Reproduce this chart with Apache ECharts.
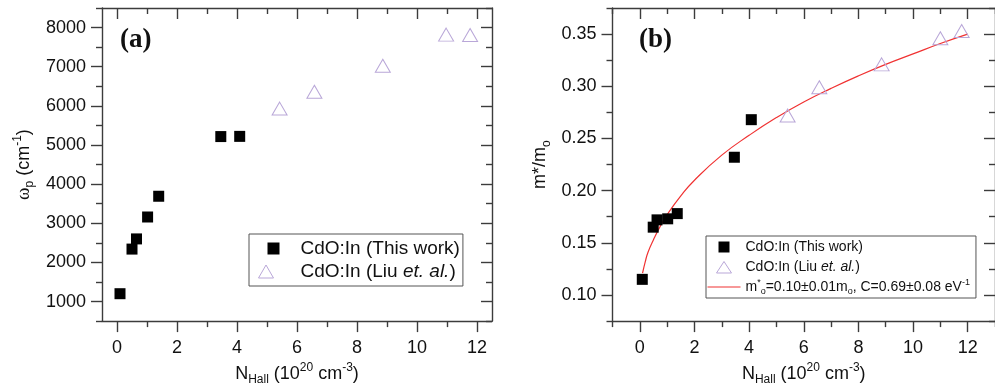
<!DOCTYPE html>
<html><head><meta charset="utf-8">
<script src="https://cdn.jsdelivr.net/npm/echarts@6/dist/echarts.min.js"></script>
<style>html,body{margin:0;padding:0;background:#fff}#c{width:995px;height:391px}</style>
</head><body><div id="c"></div>
<script>
// ---- data ----
const nWork = [0.10, 0.50, 0.65, 1.02, 1.39, 3.46, 4.09];
const wpWork = [1200, 2340, 2600, 3160, 3690, 5215, 5220];
const nLiu = [5.42, 6.58, 8.86, 10.97, 11.77];
const wpLiu = [5930, 6360, 7025, 7820, 7808];

const nWorkB = [0.09, 0.49, 0.63, 1.02, 1.37, 3.46, 4.08];
const mWork = [0.115, 0.165, 0.172, 0.173, 0.178, 0.232, 0.268];
const nLiuB = [5.41, 6.57, 8.85, 11.00, 11.78];
const mLiu = [0.272, 0.299, 0.321, 0.346, 0.353];

const nFit = [0.1, 0.2, 0.3, 0.5, 0.75, 1, 1.5, 2, 3, 4, 5, 6, 7, 8, 9, 10, 11, 12];
const mFit = [0.121, 0.132, 0.141, 0.153, 0.166, 0.177, 0.195, 0.210, 0.234, 0.253, 0.270, 0.285, 0.298, 0.310, 0.321, 0.331, 0.341, 0.350];

// tick values
const xMajor = [0, 2, 4, 6, 8, 10, 12];
const xMinorA = [1, 3, 5, 7, 9, 11];
const xMinorB = [-1, 1, 3, 5, 7, 9, 11, 13];
const yMajorA = [1000, 2000, 3000, 4000, 5000, 6000, 7000, 8000];
const yMinorA = [500, 1500, 2500, 3500, 4500, 5500, 6500, 7500, 8500];
const yMajorB = [0.10, 0.15, 0.20, 0.25, 0.30, 0.35];
const yMinorB = [0.075, 0.125, 0.175, 0.225, 0.275, 0.325, 0.375];

const nameWork = 'CdO:In (This work)';
const nameLiu = 'CdO:In (Liu et. al.)';
const nameFit = 'fit';

const AX = '#3c3c3c';
const FONT = 'Liberation Sans';
const TRI = '#b9a7d8';
const RED = '#f03232';

function zip(a, b) { return a.map((v, i) => [v, b[i]]); }

function axisSet(dim, gridIndex, min, max, major, minor, lblFmt, name, nameGap) {
  const pos = dim === 'x' ? ['bottom', 'top'] : ['left', 'right'];
  const base = {type: 'value', gridIndex, min, max, splitLine: {show: false}};
  const ls = {color: AX, width: 1.4};
  const sub = {fontSize: 12, lineHeight: 12, verticalAlign: 'bottom', fontFamily: FONT, color: '#111'};
  const sup = {fontSize: 12, lineHeight: 12, verticalAlign: 'top', fontFamily: FONT, color: '#111'};
  return [
    Object.assign({}, base, {
      position: pos[0],
      axisLine: {show: true, onZero: false, lineStyle: ls},
      axisTick: {show: true, inside: false, length: 11, customValues: major, lineStyle: ls},
      axisLabel: {show: true, customValues: major, margin: dim === 'x' ? 18 : 16, fontSize: 18, fontFamily: FONT, color: '#111', formatter: lblFmt},
      name: name, nameLocation: 'middle', nameGap: nameGap,
      nameTextStyle: {fontSize: 18, fontFamily: FONT, color: '#111', lineHeight: 24,
        rich: {n: {fontSize: 18, fontFamily: FONT, color: '#111', lineHeight: 24},
               w: {fontSize: 19, fontFamily: 'Liberation Serif', color: '#111', lineHeight: 24},
               sub: sub, sup: sup}}
    }),
    Object.assign({}, base, {
      position: pos[0],
      axisLine: {show: false, onZero: false},
      axisTick: {show: true, inside: false, length: 6, customValues: minor, lineStyle: ls},
      axisLabel: {show: false}
    }),
    Object.assign({}, base, {
      position: pos[1],
      axisLine: {show: true, onZero: false, lineStyle: ls},
      axisTick: {show: true, inside: true, length: 11, customValues: major, lineStyle: ls},
      axisLabel: {show: false}
    }),
    Object.assign({}, base, {
      position: pos[1],
      axisLine: {show: false, onZero: false},
      axisTick: {show: true, inside: true, length: 6, customValues: minor, lineStyle: ls},
      axisLabel: {show: false}
    })
  ];
}

const xAxes = [].concat(
  axisSet('x', 0, -0.5, 12.5, xMajor, xMinorA, v => String(v),
    '{n|N}{sub|Hall}{n| (10}{sup|20}{n| cm}{sup|-3}{n|)}', 35),
  axisSet('x', 1, -1, 13, xMajor, xMinorB, v => String(v),
    '{n|N}{sub|Hall}{n| (10}{sup|20}{n| cm}{sup|-3}{n|)}', 35)
);
const yAxes = [].concat(
  axisSet('y', 0, 500, 8500, yMajorA, yMinorA, v => String(v),
    '{w|ω}{sub|p}{n| (cm}{sup|-1}{n|)}', 66),
  axisSet('y', 1, 0.075, 0.375, yMajorB, yMinorB, v => Number(v).toFixed(2),
    '{n|m*/m}{sub|o}', 60)
);

function legendFmt(name) {
  if (name === nameLiu) return 'CdO:In (Liu {it|et. al.})';
  if (name === nameFit) return 'm{sup|*}{sub|o}=0.10±0.01m{sub|o}, C=0.69±0.08 eV{sup|-1}';
  return name;
}

// legend icons: invisible move-to points fix the icon box so shapes keep their proportions
const iconSqA = 'path://M0,0M44,13M16,0.5H28V12.5H16Z';
const iconTriA = 'path://M0,0M44,13M14.5,0L22,13L7,13Z';
const iconSqB = 'path://M0,0M33,12M11,0.5H22V11.5H11Z';
const iconTriB = 'path://M0,0M33,12M16.5,0.5L24,12L9,12Z';
const iconLineB = 'path://M0,0M33,12M0,5.4H33V6.6H0Z';

const hollow = {color: 'rgba(255,255,255,0)', borderColor: TRI, borderWidth: 1};

const option = {
  animation: false,
  backgroundColor: '#fff',
  grid: [
    {left: 102, top: 8, width: 390, height: 313.5, containLabel: false},
    {left: 612.5, top: 8, width: 389.5, height: 313.5, containLabel: false}
  ],
  xAxis: xAxes,
  yAxis: yAxes,
  legend: [
    {
      left: 249, top: 234, orient: 'vertical', itemWidth: 44, itemHeight: 13, itemGap: 4,
      padding: [5, 3, 5, 2], borderColor: '#555', borderWidth: 1, borderRadius: 0,
      data: [
        {name: nameWork, icon: iconSqA, itemStyle: {color: '#000', opacity: 1}},
        {name: nameLiu, icon: iconTriA, itemStyle: hollow}
      ],
      selectedMode: false,
      textStyle: {fontSize: 19, fontFamily: FONT, color: '#111',
        rich: {it: {fontStyle: 'italic', fontSize: 19, fontFamily: FONT, color: '#111'}}},
      formatter: legendFmt
    },
    {
      left: 706, top: 236, orient: 'vertical', itemWidth: 33, itemHeight: 12, itemGap: 2,
      padding: [2, 6, 2, 1], borderColor: '#555', borderWidth: 1, borderRadius: 0,
      data: [
        {name: nameWork, icon: iconSqB, itemStyle: {color: '#000', opacity: 1}},
        {name: nameLiu, icon: iconTriB, itemStyle: hollow},
        {name: nameFit, icon: iconLineB, itemStyle: {color: RED, borderWidth: 0}}
      ],
      selectedMode: false,
      textStyle: {fontSize: 14, lineHeight: 18, fontFamily: FONT, color: '#111',
        rich: {it: {fontStyle: 'italic', fontSize: 14, lineHeight: 18, fontFamily: FONT, color: '#111'},
               sup: {fontSize: 9, lineHeight: 9, verticalAlign: 'top', fontFamily: FONT, color: '#111'},
               sub: {fontSize: 9, lineHeight: 9, verticalAlign: 'bottom', fontFamily: FONT, color: '#111'}}},
      formatter: legendFmt
    }
  ],
  graphic: [
    {type: 'text', left: 120, top: 27, style: {text: '(a)', font: 'bold 27px "Liberation Serif"', fill: '#111'}},
    {type: 'text', left: 639, top: 27, style: {text: '(b)', font: 'bold 27px "Liberation Serif"', fill: '#111'}}
  ],
  series: [
    {type: 'scatter', name: nameWork, xAxisIndex: 0, yAxisIndex: 0, data: zip(nWork, wpWork),
      symbol: 'rect', symbolSize: 11, itemStyle: {color: '#000', opacity: 1}},
    {type: 'scatter', name: nameLiu, xAxisIndex: 0, yAxisIndex: 0, data: zip(nLiu, wpLiu),
      symbol: 'triangle', symbolSize: [15, 13], itemStyle: Object.assign({opacity: 1}, hollow)},
    {type: 'line', name: nameFit, xAxisIndex: 4, yAxisIndex: 4, data: zip(nFit, mFit),
      smooth: true, showSymbol: false, symbol: 'none', itemStyle: {color: RED},
      lineStyle: {color: RED, width: 1.2}, z: 1},
    {type: 'scatter', name: nameWork, xAxisIndex: 4, yAxisIndex: 4, data: zip(nWorkB, mWork),
      symbol: 'rect', symbolSize: 11, itemStyle: {color: '#000', opacity: 1}, z: 3},
    {type: 'scatter', name: nameLiu, xAxisIndex: 4, yAxisIndex: 4, data: zip(nLiuB, mLiu),
      symbol: 'triangle', symbolSize: [15, 13], itemStyle: Object.assign({opacity: 1}, hollow), z: 3}
  ]
};

const chart = echarts.init(document.getElementById('c'), null, {renderer: 'canvas'});
chart.setOption(option);
</script>
</body></html>
